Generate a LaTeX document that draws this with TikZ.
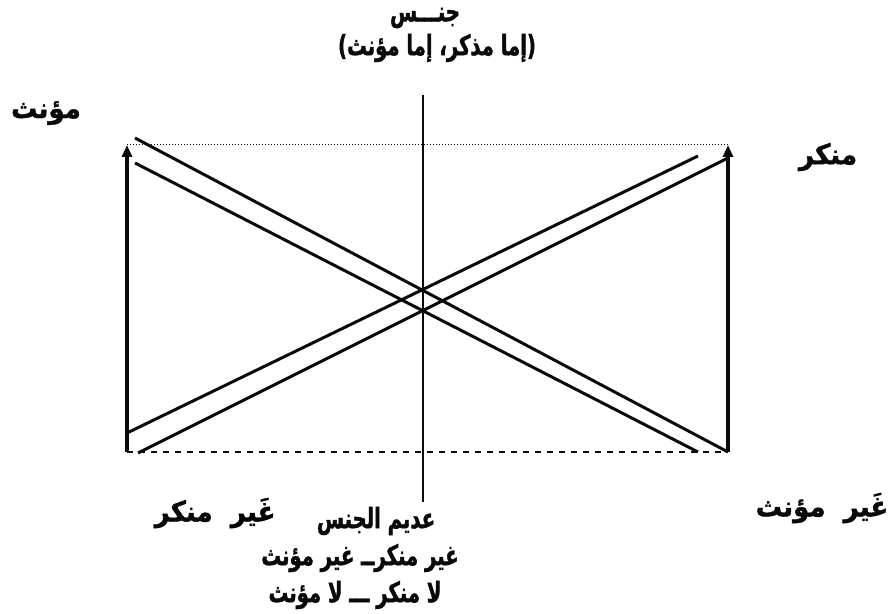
\documentclass[tikz,border=0pt]{standalone}
\usepackage{fontspec}
\usepackage{xcolor}
\usepackage{tikz}
\usetikzlibrary{arrows.meta}
\TeXXeTstate=1
\newfontfamily\arabicfont[Script=Arabic, FakeStretch=0.7, BoldFeatures={FakeBold=1.5}]{DejaVu Sans}
\newfontfamily\arabicwide[Script=Arabic, FakeStretch=0.93, BoldFeatures={FakeBold=1.5}]{DejaVu Sans}
\definecolor{inkgray}{RGB}{10, 10, 10}
\definecolor{fadegray}{RGB}{150, 150, 150}

\begin{document}
\begin{tikzpicture}[x=0.5pt, y=-0.5pt,
    artext/.style={font=\arabicfont\bfseries\fontsize{14}{16}\selectfont, text=inkgray, inner sep=0pt},
    cornertext/.style={font=\arabicwide\bfseries\fontsize{14}{16}\selectfont, text=inkgray, inner sep=0pt},
    diagline/.style={line width=1.5pt, inkgray},
    sideline/.style={line width=1.6pt, inkgray, -{Triangle[width=5pt, length=6pt]}}]

    \useasboundingbox (0,0) rectangle (895,614);

    % Titles on top
    \node[artext] at (425, 18) (genus) {\beginR جنـــس\endR};
    \node[artext] at (437, 48) (either) {\beginR (إما مذكر، إما مؤنث)\endR};

    % Corner labels
    \node[cornertext] at (46, 113) (fem) {\beginR مؤنث\endR};
    \node[cornertext] at (828, 157) (masc) {\beginR منكر\endR};
    \node[cornertext] at (822, 508) (notfem) {\beginR غَير\ \ مؤنث\endR};
    \node[cornertext] at (215, 513) (notmasc) {\beginR \textcolor{fadegray}{غَير}\ \ منكر\endR};

    % Neuter labels
    \node[artext] at (376, 521) (neuter) {\beginR عديم الجنس\endR};
    \node[artext] at (360, 558) (neither) {\beginR غير منكرــ غير مؤنث\endR};
    \node[artext] at (355, 595) (nor) {\beginR لا منكر ـــ لا مؤنث\endR};

    % Rectangle
    \coordinate (bl) at (127, 452);
    \coordinate (tl) at (127, 145);
    \coordinate (br) at (728, 452);
    \coordinate (tr) at (728, 145);
    \draw[inkgray, densely dotted, line width=0.5pt] (tl) -- (tr);
    \draw[inkgray, dashed, line width=0.6pt] (bl) -- (br);
    \draw[sideline] (bl) -- (tl);
    \draw[sideline] (br) -- (tr);

    % Middle axis
    \coordinate (axtop) at (423, 95);
    \coordinate (axbot) at (423, 502);
    \draw[inkgray, line width=1.1pt] (axtop) -- (axbot);

    % Crossing lines
    \coordinate (fa) at (135, 138);
    \coordinate (fb) at (135, 163);
    \coordinate (fc) at (698, 452);
    \coordinate (ma) at (138, 453);
    \coordinate (mb) at (127, 433);
    \coordinate (mc) at (698, 156);
    \coordinate (md) at (728, 158);
    \draw[diagline] (fa) -- (br);
    \draw[diagline] (fb) -- (fc);
    \draw[diagline] (ma) -- (md);
    \draw[diagline] (mb) -- (mc);

\end{tikzpicture}
\end{document}
